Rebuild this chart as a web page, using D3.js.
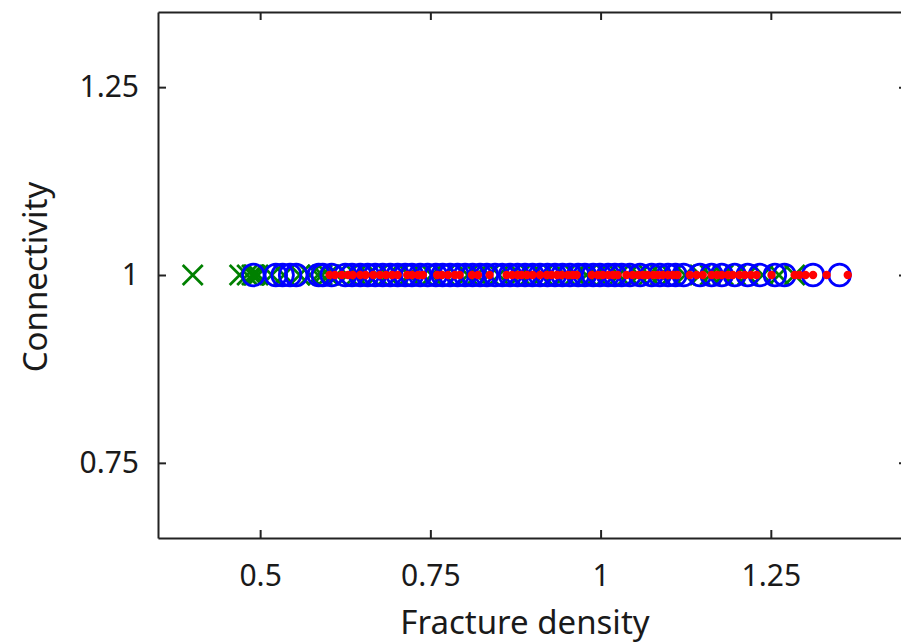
<!DOCTYPE html>
<html>
<head>
<meta charset="utf-8">
<script src="https://cdn.jsdelivr.net/npm/d3@7"></script>
<style>
  body { margin: 0; background: #fff; }
  text { font-family: "Noto Sans", sans-serif; fill: #1a1a1a; }
</style>
</head>
<body>
<div id="chart"></div>
<script>
// every sample sits at connectivity 1
const connectivity = 1;

// fracture density of each sample, per series
const crossX = [0.401, 0.470, 0.481, 0.488, 0.490, 0.492, 0.497, 0.517, 0.535, 0.558,
  0.573, 0.585, 0.591, 0.600, 0.612, 0.628, 0.641, 0.659, 0.672, 0.688, 0.703, 0.719,
  0.738, 0.752, 0.771, 0.789, 0.805, 0.818, 0.836, 0.851, 0.868, 0.882, 0.897, 0.915,
  0.931, 0.948, 0.962, 0.979, 0.994, 1.009, 1.027, 1.040, 1.056, 1.071, 1.088, 1.104,
  1.124, 1.146, 1.161, 1.180, 1.198, 1.216, 1.238, 1.262, 1.285];

const circleX = [0.490, 0.523, 0.533, 0.544, 0.553, 0.586, 0.592, 0.605, 0.625, 0.635,
  0.647, 0.658, 0.669, 0.680, 0.691, 0.702, 0.713, 0.723, 0.735, 0.746, 0.758, 0.768,
  0.779, 0.790, 0.801, 0.812, 0.823, 0.833, 0.845, 0.856, 0.867, 0.878, 0.889, 0.900,
  0.911, 0.922, 0.933, 0.944, 0.955, 0.967, 0.977, 0.989, 0.999, 1.011, 1.021, 1.031,
  1.043, 1.058, 1.075, 1.087, 1.099, 1.110, 1.122, 1.146, 1.163, 1.178, 1.197, 1.216,
  1.234, 1.256, 1.270, 1.312, 1.351];

const dotX = [0.602, 0.610, 0.620, 0.629, 0.636, 0.647, 0.655, 0.666, 0.676, 0.685,
  0.694, 0.702, 0.716, 0.723, 0.732, 0.739, 0.760, 0.767, 0.776, 0.786, 0.793, 0.811,
  0.820, 0.837, 0.862, 0.870, 0.878, 0.884, 0.892, 0.900, 0.911, 0.921, 0.928, 0.936,
  0.943, 0.952, 0.959, 0.965, 0.987, 0.996, 1.003, 1.011, 1.018, 1.025, 1.038, 1.047,
  1.055, 1.062, 1.069, 1.077, 1.084, 1.091, 1.099, 1.106, 1.113, 1.131, 1.141, 1.150,
  1.163, 1.171, 1.178, 1.187, 1.194, 1.204, 1.212, 1.221, 1.229, 1.251, 1.285, 1.292,
  1.301, 1.312, 1.332, 1.363];

const xTicks = [0.5, 0.75, 1, 1.25];
const yTicks = [0.75, 1, 1.25];
const xDomain = [0.35, 1.45];
const yDomain = [0.65, 1.35];

const W = 901, H = 643;
const plot = {left: 158, right: 907, top: 12, bottom: 538};

const svg = d3.select("#chart").append("svg")
  .attr("width", W).attr("height", H);

const x = d3.scaleLinear().domain(xDomain).range([plot.left, plot.right]);
const y = d3.scaleLinear().domain(yDomain).range([plot.bottom, plot.top]);

const fmt = d => String(d);

// axes, ticks point inward
function styleAxis(g) {
  g.selectAll("path.domain").attr("stroke", "#222").attr("stroke-width", 2);
  g.selectAll(".tick line").attr("stroke", "#222").attr("stroke-width", 2);
}

svg.append("g")
  .attr("transform", `translate(0,${plot.bottom})`)
  .call(d3.axisBottom(x).tickValues(xTicks).tickFormat(fmt).tickSizeInner(-8).tickSizeOuter(0).tickPadding(27))
  .call(styleAxis)
  .call(g => g.selectAll("text").attr("font-size", 30).attr("fill", "#1a1a1a")
    .attr("font-family", "Noto Sans"));

svg.append("g")
  .attr("transform", `translate(0,${plot.top})`)
  .call(d3.axisTop(x).tickValues(xTicks).tickFormat("").tickSizeInner(-8).tickSizeOuter(0))
  .call(styleAxis);

svg.append("g")
  .attr("transform", `translate(${plot.left},0)`)
  .call(d3.axisLeft(y).tickValues(yTicks).tickFormat(fmt).tickSizeInner(-8).tickSizeOuter(0).tickPadding(19))
  .call(styleAxis)
  .call(g => g.selectAll("text").attr("font-size", 30).attr("fill", "#1a1a1a")
    .attr("font-family", "Noto Sans"));

svg.append("g")
  .attr("transform", `translate(${plot.right},0)`)
  .call(d3.axisRight(y).tickValues(yTicks).tickFormat("").tickSizeInner(-8).tickSizeOuter(0))
  .call(styleAxis);

// markers: green crosses, blue rings, red dots on top
const cy = y(connectivity);
const s = 10;

svg.append("g").selectAll("path")
  .data(crossX)
  .join("path")
    .attr("d", d => `M${x(d) - s},${cy - s}L${x(d) + s},${cy + s}M${x(d) - s},${cy + s}L${x(d) + s},${cy - s}`)
    .attr("stroke", "#008000")
    .attr("stroke-width", 2.8)
    .attr("fill", "none");

svg.append("g").selectAll("circle")
  .data(circleX)
  .join("circle")
    .attr("cx", d => x(d))
    .attr("cy", cy)
    .attr("r", 10.8)
    .attr("fill", "none")
    .attr("stroke", "#0000ff")
    .attr("stroke-width", 2.8);

svg.append("g").selectAll("circle")
  .data(dotX)
  .join("circle")
    .attr("cx", d => x(d))
    .attr("cy", cy)
    .attr("r", 4.2)
    .attr("fill", "#ff0000");

// axis titles
svg.append("text")
  .attr("x", 525).attr("y", 634)
  .attr("text-anchor", "middle")
  .attr("font-size", 33)
  .text("Fracture density");

svg.append("text")
  .attr("transform", "translate(47,277) rotate(-90)")
  .attr("text-anchor", "middle")
  .attr("font-size", 33)
  .text("Connectivity");
</script>
</body>
</html>
